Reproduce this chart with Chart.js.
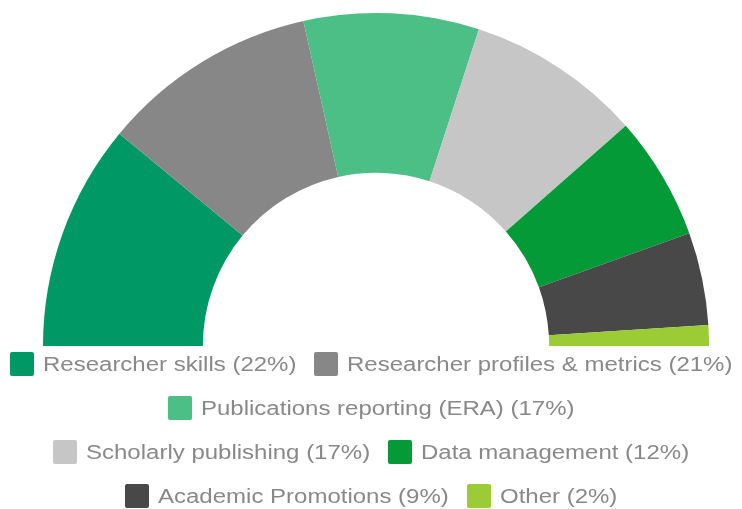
<!DOCTYPE html>
<html>
<head>
<meta charset="utf-8">
<script src="https://cdn.jsdelivr.net/npm/chart.js@4/dist/chart.umd.min.js"></script>
<style>
    body { margin: 0; background: #fff; }
    #wrap { position: relative; width: 742px; height: 509px; overflow: hidden; }
    #chartBox { position: absolute; left: 0; top: 0; width: 742px; height: 350px; }
    #legend { position: absolute; left: 0; top: 342px; width: 742px; }
    .row { display: flex; justify-content: center; align-items: center; height: 44px; white-space: nowrap; }
    .item { display: flex; align-items: center; margin: 0 9px; }
    .swatch { width: 24px; height: 24px; border-radius: 2px; margin-right: 9px; flex: none; }
    .txt { display: inline-block; font-family: "Liberation Sans", Arial, sans-serif; font-size: 20px; color: #898989; line-height: 24px; transform-origin: left center; }
</style>
</head>
<body>
<div id="wrap">
    <div id="chartBox"><canvas id="halfChart"></canvas></div>
    <div id="legend"></div>
</div>
<script>
// ================= Data =================
const categories = [
    "Researcher skills",
    "Researcher profiles & metrics",
    "Publications reporting (ERA)",
    "Scholarly publishing",
    "Data management",
    "Academic Promotions",
    "Other"
];
const shares = [22, 21, 17, 17, 12, 9, 2];
const colours = ["#009966", "#878787", "#4bbf85", "#c6c6c6", "#039a37", "#484848", "#9bcb35"];

// legend rows (which items sit on which line)
const legendRows = [[0, 1], [2], [3, 4], [5, 6]];
const textStretch = 1.2;   // the original font is wider than Arial

// ================= Chart =================
const ctx = document.getElementById("halfChart").getContext("2d");
new Chart(ctx, {
    type: "doughnut",
    data: {
        labels: categories,
        datasets: [{
            data: shares,
            backgroundColor: colours,
            borderWidth: 0
        }]
    },
    options: {
        responsive: true,
        maintainAspectRatio: false,
        animation: false,
        rotation: -90,
        circumference: 180,
        cutout: "52%",
        layout: { padding: { top: 13, bottom: 4, left: 10, right: 0 } },
        plugins: {
            legend: { display: false },
            tooltip: { enabled: false }
        }
    }
});

// ================= Legend =================
const legendEl = document.getElementById("legend");
legendRows.forEach(row => {
    const rowEl = document.createElement("div");
    rowEl.className = "row";
    row.forEach(i => {
        const item = document.createElement("div");
        item.className = "item";
        item.innerHTML = `<span class="swatch" style="background:${colours[i]}"></span><span class="txt">${categories[i].replace("&", "&amp;")} (${shares[i]}%)</span>`;
        rowEl.appendChild(item);
    });
    legendEl.appendChild(rowEl);
});

// stretch the text sideways and give it the room it takes
document.querySelectorAll(".txt").forEach(t => {
    const w = t.getBoundingClientRect().width;
    t.style.transform = `scaleX(${textStretch})`;
    t.style.marginRight = (w * (textStretch - 1)) + "px";
});
</script>
</body>
</html>
